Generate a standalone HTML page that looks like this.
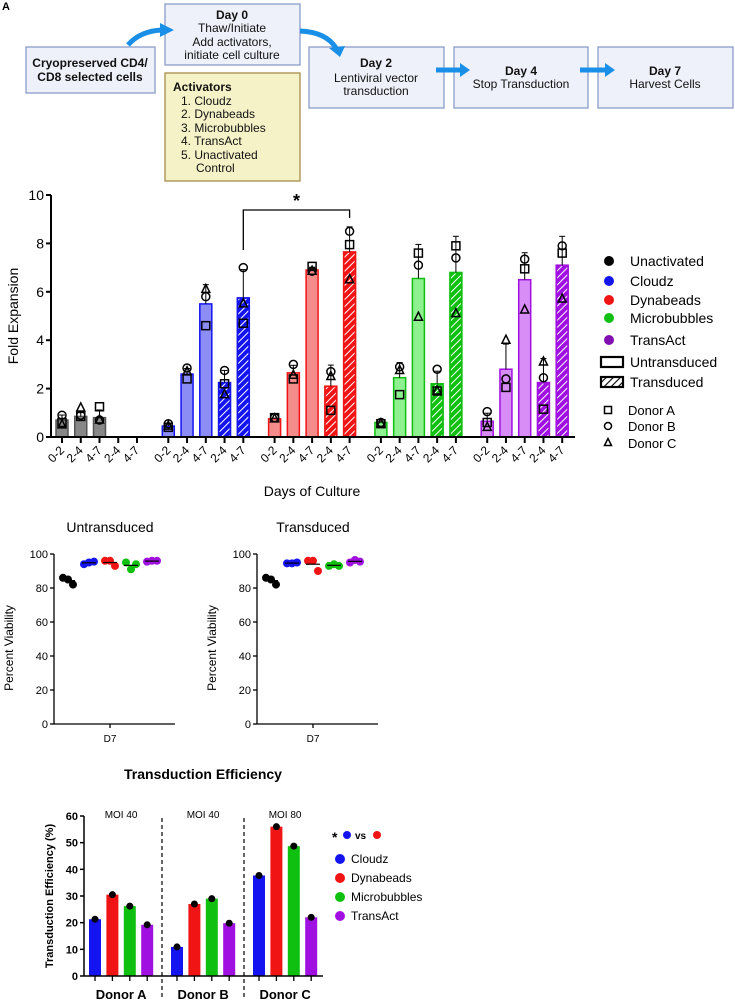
<!DOCTYPE html>
<html><head><meta charset="utf-8"><style>
body{margin:0;background:#fff;width:735px;height:999px;overflow:hidden;font-family:"Liberation Sans",Arial,sans-serif}
svg text{font-family:"Liberation Sans",Arial,sans-serif}
</style></head><body>
<svg id="fig" width="735" height="999" viewBox="0 0 735 999" xmlns="http://www.w3.org/2000/svg">
<defs>
<pattern id="hatch" patternUnits="userSpaceOnUse" width="5" height="5" patternTransform="rotate(45)"><rect width="5" height="5" fill="none"/><line x1="0" y1="0" x2="0" y2="5" stroke="#fff" stroke-width="2"/></pattern>
<pattern id="hatchB" patternUnits="userSpaceOnUse" width="5" height="5" patternTransform="rotate(45)"><line x1="0" y1="0" x2="0" y2="5" stroke="#000" stroke-width="2.2"/></pattern>
</defs>
<text x="2" y="10" font-size="11" font-weight="bold">A</text>
<!-- schematic -->
<g font-size="12" text-anchor="middle" fill="#111">
<rect x="26" y="47" width="129" height="46" fill="#eef1f9" stroke="#8a9cc9" stroke-width="1.3"/>
<text x="90" y="67" font-weight="bold">Cryopreserved CD4/</text><text x="90" y="81" font-weight="bold">CD8 selected cells</text>
<rect x="165" y="4" width="135" height="61" fill="#eef1f9" stroke="#8a9cc9" stroke-width="1.3"/>
<text x="232" y="19" font-weight="bold">Day 0</text><text x="232" y="32">Thaw/Initiate</text><text x="232" y="46">Add activators,</text><text x="232" y="59">initiate cell culture</text>
<rect x="165" y="73" width="135" height="108" fill="#f6f2c8" stroke="#a88d4a" stroke-width="1.3"/>
<g text-anchor="start"><text x="173" y="91" font-weight="bold">Activators</text><text x="181" y="105">1.  Cloudz</text><text x="181" y="118">2.  Dynabeads</text><text x="181" y="132">3.  Microbubbles</text><text x="181" y="145">4.  TransAct</text><text x="181" y="159">5.  Unactivated</text><text x="196" y="172">Control</text></g>
<rect x="309" y="47" width="135" height="61" fill="#eef1f9" stroke="#8a9cc9" stroke-width="1.3"/>
<text x="376" y="67" font-weight="bold">Day 2</text><text x="376" y="82">Lentiviral vector</text><text x="376" y="95">transduction</text>
<rect x="454" y="47" width="134" height="61" fill="#eef1f9" stroke="#8a9cc9" stroke-width="1.3"/>
<text x="521" y="75" font-weight="bold">Day 4</text><text x="521" y="88">Stop Transduction</text>
<rect x="598" y="47" width="135" height="61" fill="#eef1f9" stroke="#8a9cc9" stroke-width="1.3"/>
<text x="665" y="75" font-weight="bold">Day 7</text><text x="665" y="88">Harvest Cells</text>
<g fill="none" stroke="#1a8fe8" stroke-width="5">
<path d="M128 45 Q140 31 162 30"/>
<path d="M300 31 Q326 32 336 48"/>
<path d="M436 70 L462 70"/>
<path d="M580 70 L606 70"/>
</g>
<g fill="#1a8fe8"><polygon points="160,23 174,30 160,37"/><polygon points="329,48 345,46 340,57"/><polygon points="460,63 470,70 460,77"/><polygon points="605,63 615,70 605,77"/></g>
</g>
<g id="fold"></g>
<g id="via"></g>
<g id="te"></g>
</svg>
<script>
// ---------- Fold expansion data ----------
const foldGroups=["Unactivated","Cloudz","Dynabeads","Microbubbles","TransAct"];
const foldColors=["#555555","#1414f0","#f01414","#10c010","#a010e0"];
const foldLight=["#888888","#8c8cf5","#f58c8c","#8ef08e","#d88cf5"];
const foldDays=["0-2","2-4","4-7","2-4","4-7"];
const foldMeans=[[0.7,0.85,0.8,null,null],[0.45,2.6,5.5,2.25,5.75],[0.75,2.65,6.9,2.1,7.65],[0.6,2.45,6.55,2.2,6.8],[0.65,2.8,6.5,2.25,7.1]];
const donorA=[[0.6,0.85,1.25,null,null],[0.4,2.4,4.6,2.2,4.7],[0.8,2.4,7.05,1.1,7.95],[0.55,1.75,7.6,1.9,7.9],[0.6,2.05,6.95,1.15,7.6]];
const donorB=[[0.9,0.9,0.7,null,null],[0.55,2.85,5.8,2.75,7.0],[0.8,3.0,6.85,2.7,8.5],[0.6,2.9,7.1,2.8,7.4],[1.05,2.4,7.35,2.45,7.9]];
const donorC=[[0.5,1.2,0.7,null,null],[0.45,2.7,6.1,1.75,5.5],[0.75,2.55,6.85,2.5,6.5],[0.55,2.75,4.95,1.9,5.1],[0.4,4.0,5.25,3.1,5.7]];
const foldTicks=[0,2,4,6,8,10];
// ---------- Viability data ----------
const viaColors=["#000","#1414f0","#f01414","#10c010","#a010e0"];
const viaUntr=[[86,85,82],[94,95,95.5],[96,96,93],[95,91,94],[95.5,96,96]];
const viaTr=[[86,85,82],[94.5,94.5,95],[96,96,90],[93,94,93],[95,96.5,95.5]];
const viaTicks=[0,20,40,60,80,100];
// ---------- Transduction efficiency data ----------
const teDonors=["Donor A","Donor B","Donor C"];
const teMoi=["MOI 40","MOI 40","MOI 80"];
const teActivators=["Cloudz","Dynabeads","Microbubbles","TransAct"];
const teColors=["#1414f0","#f01414","#10c010","#a010e0"];
const teValues=[[21.3,30.5,26.2,19.2],[10.9,27,29,19.8],[37.7,56,48.7,22]];
const teTicks=[0,10,20,30,40,50,60];

const NS="http://www.w3.org/2000/svg";
function mk(p,tag,at,txt){const e=document.createElementNS(NS,tag);for(const k in at)e.setAttribute(k,at[k]);if(txt!==undefined)e.textContent=txt;p.appendChild(e);return e;}
function sd(a){const v=a.filter(x=>x!=null);const m=v.reduce((s,x)=>s+x,0)/v.length;return Math.sqrt(v.reduce((s,x)=>s+(x-m)*(x-m),0)/(v.length-1));}
function marker(p,type,x,y,s){
 let e;
 if(type==0)e=mk(p,'rect',{x:x-s,y:y-s,width:2*s,height:2*s,fill:'none',stroke:'#000','stroke-width':1.5});
 else if(type==1)e=mk(p,'circle',{cx:x,cy:y,r:s,fill:'none',stroke:'#000','stroke-width':1.5});
 else e=mk(p,'polygon',{points:`${x},${y-s-1} ${x-s},${y+s-1} ${x+s},${y+s-1}`,fill:'none',stroke:'#000','stroke-width':1.5});
 return e;
}
// ---- Fold chart ----
(function(){
 const g=document.getElementById('fold');
 const y0=437,yTop=195,ax=51,axEnd=575;
 const Y=v=>y0-(v/10)*(y0-yTop);
 const X=(gi,bi)=>62+gi*106.3+bi*18.75;
 const bw=12;
 foldGroups.forEach((name,gi)=>{
  foldDays.forEach((d,bi)=>{
   const m=foldMeans[gi][bi];
   const x=X(gi,bi);
   if(m!=null){
    const tr=bi>=3;
    const r=mk(g,'rect',{x:x-bw/2,y:Y(m),width:bw,height:y0-Y(m),fill:tr?foldColors[gi]:foldLight[gi],stroke:foldColors[gi],'stroke-width':1.5});
    
    
    if(tr){mk(g,'rect',{x:x-bw/2+1,y:Y(m)+1,width:bw-2,height:Math.max(0,y0-Y(m)-1),fill:'url(#hatch)'});}
    const s=sd([donorA[gi][bi],donorB[gi][bi],donorC[gi][bi]]);
    mk(g,'line',{x1:x,x2:x,y1:Y(m),y2:Y(m+s),stroke:'#000','stroke-width':1});
    mk(g,'line',{x1:x-3,x2:x+3,y1:Y(m+s),y2:Y(m+s),stroke:'#000','stroke-width':1});
    [donorA,donorB,donorC].forEach((arr,di)=>{
     const mm=marker(g,di,x,Y(arr[gi][bi]),4);
     
     
    });
   }
   mk(g,'line',{x1:x,x2:x,y1:y0,y2:y0+6,stroke:'#000','stroke-width':2});
   const t=mk(g,'text',{x:x+3,y:y0+14,'font-size':12,'text-anchor':'end',transform:`rotate(-45 ${x+3} ${y0+14})`},d);
   
   
  });
 });
 mk(g,'line',{x1:ax,x2:axEnd,y1:y0,y2:y0,stroke:'#000','stroke-width':2});
 mk(g,'line',{x1:ax,x2:ax,y1:yTop,y2:y0,stroke:'#000','stroke-width':2});
 foldTicks.forEach(v=>{mk(g,'line',{x1:ax-5,x2:ax,y1:Y(v),y2:Y(v),stroke:'#000','stroke-width':2});
  const t=mk(g,'text',{x:ax-7,y:Y(v)+5,'font-size':14,'text-anchor':'end'},v);
  
  });
 const yt=mk(g,'text',{x:18,y:316,'font-size':14,'text-anchor':'middle',transform:'rotate(-90 18 316)'},'Fold Expansion');
 
 const xt=mk(g,'text',{x:312,y:496,'font-size':14,'text-anchor':'middle'},'Days of Culture');
 
 const x1=X(1,4),x2=X(2,4);
 mk(g,'path',{d:`M${x1} 250 V210 H${x2} V218`,fill:'none',stroke:'#000','stroke-width':1.3});
 mk(g,'text',{x:(x1+x2)/2,y:207,'font-size':18,'font-weight':'bold','text-anchor':'middle'},'*');
 // legend
 foldGroups.forEach((n,i)=>{const yy=[261,281,300,318,340][i];
  const c=mk(g,'circle',{cx:609,cy:yy,r:5,fill:i==0?'#000':(i==4?'#8010b0':foldColors[i])});
  
  mk(g,'text',{x:630,y:yy+5,'font-size':14},n);});
 mk(g,'rect',{x:601,y:357,width:22,height:10,fill:'none',stroke:'#000','stroke-width':2.2});
 mk(g,'text',{x:630,y:367,'font-size':14},'Untransduced');
 mk(g,'rect',{x:601,y:377,width:22,height:10,fill:'url(#hatchB)',stroke:'#000','stroke-width':2.2});
 mk(g,'text',{x:630,y:387,'font-size':14},'Transduced');
 ['Donor A','Donor B','Donor C'].forEach((n,i)=>{const yy=[410,426,443][i];marker(g,i,608,yy,3.5);mk(g,'text',{x:628,y:yy+5,'font-size':13},n);});
})();
// ---- Viability ----
(function(){
 const g=document.getElementById('via');
 function panel(ox,title,data,nm){
  const y0=724,yTop=554,ax=ox,axEnd=ox+121;
  const Y=v=>y0-v/100*(y0-yTop);
  const gx=i=>ax+14+i*21;
  const t=mk(g,'text',{x:ax+56,y:532,'font-size':14,'text-anchor':'middle'},title);
  
  data.forEach((pts,i)=>{
   const m=pts.reduce((a,b)=>a+b,0)/3;
   pts.forEach((v,k)=>{const c=mk(g,'circle',{cx:gx(i)+(k-1)*5,cy:Y(v),r:4,fill:viaColors[i]});
    });
   mk(g,'line',{x1:gx(i)-7,x2:gx(i)+7,y1:Y(m),y2:Y(m),stroke:'#000','stroke-width':1.2});
  });
  mk(g,'line',{x1:ax,x2:axEnd,y1:y0,y2:y0,stroke:'#000','stroke-width':1.3});
  mk(g,'line',{x1:ax,x2:ax,y1:yTop,y2:y0,stroke:'#000','stroke-width':1.3});
  mk(g,'line',{x1:ax+56,x2:ax+56,y1:y0,y2:y0+4,stroke:'#000','stroke-width':1.3});
  mk(g,'text',{x:ax+56,y:742,'font-size':10,'text-anchor':'middle'},'D7');
  viaTicks.forEach(v=>{mk(g,'line',{x1:ax-4,x2:ax,y1:Y(v),y2:Y(v),stroke:'#000','stroke-width':1.3});
   mk(g,'text',{x:ax-6,y:Y(v)+4,'font-size':11,'text-anchor':'end'},v);});
  mk(g,'text',{x:ax-41,y:648,'font-size':12,'text-anchor':'middle',transform:`rotate(-90 ${ax-41} 648)`},'Percent Viability');
 }
 panel(54,'Untransduced',viaUntr,'untransduced');
 panel(257,'Transduced',viaTr,'transduced');
})();
// ---- Transduction efficiency ----
(function(){
 const g=document.getElementById('te');
 const y0=976,yTop=816,ax=84,axEnd=323;
 const Y=v=>y0-v/60*(y0-yTop);
 const X=(d,a)=>95+d*82+a*17.4;
 const tt=mk(g,'text',{x:203,y:779,'font-size':14,'font-weight':'bold','text-anchor':'middle'},'Transduction Efficiency');
 
 teDonors.forEach((dn,d)=>{
  teActivators.forEach((an,a)=>{
   const v=teValues[d][a],x=X(d,a);
   const r=mk(g,'rect',{x:x-6,y:Y(v),width:12,height:y0-Y(v),fill:teColors[a]});
   
   
   mk(g,'circle',{cx:x,cy:Y(v),r:3.5,fill:'#000'});
   mk(g,'line',{x1:x,x2:x,y1:y0,y2:y0+5,stroke:'#000','stroke-width':1.3});
  });
  const cx=(X(d,0)+X(d,3))/2;
  mk(g,'text',{x:cx,y:999,'font-size':13,'font-weight':'bold','text-anchor':'middle'},dn);
  mk(g,'text',{x:cx,y:818,'font-size':10,'text-anchor':'middle'},teMoi[d]);
 });
 [162,244].forEach(x=>mk(g,'line',{x1:x,x2:x,y1:818,y2:999,stroke:'#000','stroke-width':1.2,'stroke-dasharray':'4,3'}));
 mk(g,'line',{x1:ax,x2:axEnd,y1:y0,y2:y0,stroke:'#000','stroke-width':1.5});
 mk(g,'line',{x1:ax,x2:ax,y1:yTop,y2:y0,stroke:'#000','stroke-width':1.5});
 teTicks.forEach(v=>{mk(g,'line',{x1:ax-4,x2:ax,y1:Y(v),y2:Y(v),stroke:'#000','stroke-width':1.5});
  mk(g,'text',{x:ax-6,y:Y(v)+4,'font-size':11,'font-weight':'bold','text-anchor':'end'},v);});
 mk(g,'text',{x:53,y:896,'font-size':11,'font-weight':'bold','text-anchor':'middle',transform:'rotate(-90 53 896)'},'Transduction Efficiency (%)');
 mk(g,'text',{x:332,y:842,'font-size':14,'font-weight':'bold'},'*');
 mk(g,'circle',{cx:347,cy:835,r:4,fill:'#1414f0'});
 mk(g,'text',{x:355,y:839,'font-size':10,'font-weight':'bold'},'vs');
 mk(g,'circle',{cx:377,cy:835,r:4,fill:'#f01414'});
 teActivators.forEach((n,i)=>{const yy=859+i*19;
  const c=mk(g,'circle',{cx:340,cy:yy,r:5,fill:teColors[i]});
  
  mk(g,'text',{x:351,y:yy+4,'font-size':12},n);});
})();
</script>
</body></html>
